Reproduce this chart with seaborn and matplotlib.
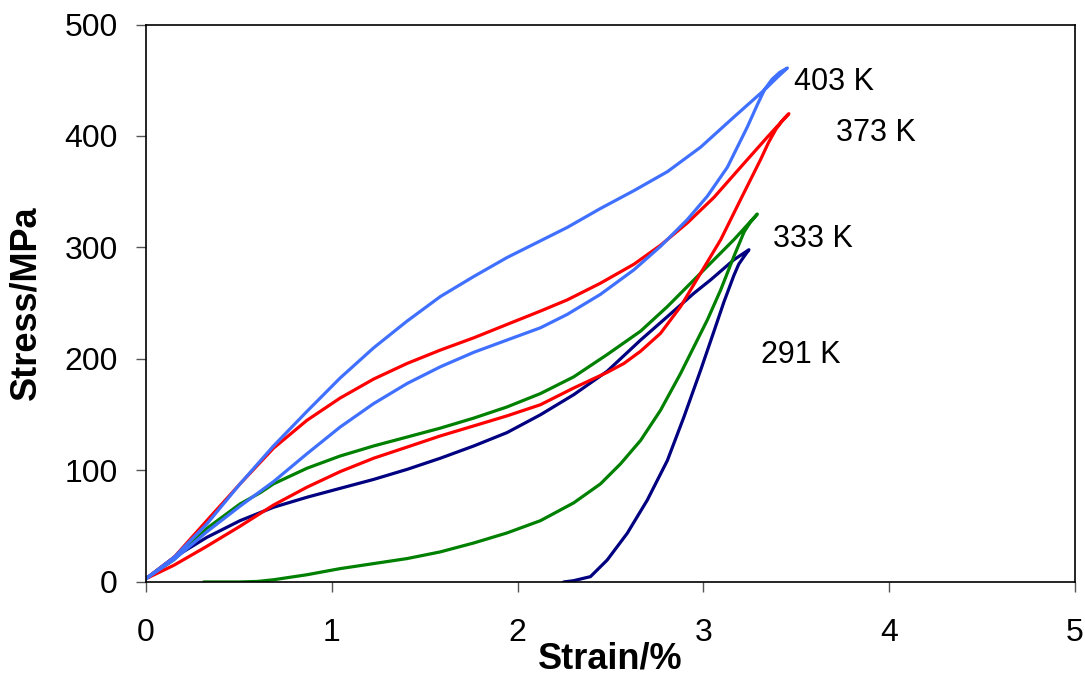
import pandas as pd
import matplotlib
matplotlib.use("Agg")
import matplotlib.pyplot as plt
import seaborn as sns

# --- Data (strain in %, stress in MPa) ---
# each loop: loading branch to the tip, then the unloading branch back down
temps = ["291 K", "333 K", "373 K", "403 K"]
colors = ["#000080", "#008000", "#ff0000", "#4070ff"]

strain_291 = [0, 0.15, 0.327, 0.506, 0.686, 0.866, 1.045, 1.225, 1.405, 1.584, 1.764,
              1.943, 2.123, 2.302, 2.482, 2.662, 2.806, 2.949, 3.039, 3.164, 3.245,
              3.219, 3.19, 3.164, 3.11, 3.057, 2.985, 2.895, 2.806, 2.698, 2.59, 2.482,
              2.392, 2.302, 2.248]
stress_291 = [3, 22, 40, 55, 67, 76, 84, 92, 101, 111, 122,
              134, 150, 168, 189, 217, 238, 259, 271, 289, 298,
              292, 285, 275, 251, 225, 190, 148, 109, 73.5, 43.7, 19.7,
              4.8, 1.2, 0]

strain_333 = [0, 0.15, 0.327, 0.506, 0.614, 0.686, 0.866, 1.045, 1.225, 1.405, 1.584,
              1.764, 1.943, 2.123, 2.302, 2.482, 2.662, 2.806, 2.985, 3.164, 3.29,
              3.25, 3.219, 3.164, 3.093, 3.021, 2.967, 2.877, 2.769, 2.662, 2.554,
              2.446, 2.302, 2.123, 1.943, 1.764, 1.584, 1.405, 1.225, 1.045, 0.866,
              0.686, 0.6, 0.5, 0.31]
stress_333 = [3, 20, 48, 70, 80, 88, 102, 113, 122, 130, 138,
              147, 157, 169, 184, 204, 225, 247, 277, 307, 330,
              322, 314, 292, 262, 235, 217, 187, 154, 127, 106,
              88, 71, 55, 44, 35, 27, 21, 16.5, 12, 6.5,
              2, 0.5, 0, 0]

strain_373 = [0, 0.15, 0.327, 0.506, 0.686, 0.866, 1.045, 1.225, 1.405, 1.584, 1.764,
              1.943, 2.123, 2.267, 2.446, 2.626, 2.769, 2.913, 3.057, 3.2, 3.344, 3.41,
              3.46, 3.43, 3.39, 3.35, 3.308, 3.2, 3.093, 2.985, 2.877, 2.769, 2.662,
              2.572, 2.482, 2.302, 2.123, 1.943, 1.764, 1.584, 1.405, 1.225, 1.045,
              0.866, 0.686, 0.506, 0.327, 0.15, 0]
stress_373 = [3, 22, 55, 88, 120, 145, 165, 182, 196, 208, 219,
              231, 243, 253, 268, 285, 302, 322, 345, 372, 399, 411,
              420, 415, 406, 394, 379, 343, 307, 277, 247, 223, 207,
              196, 188, 174, 159, 149, 140, 131, 121, 111, 99,
              85, 69, 50, 32, 15, 3]

strain_403 = [0, 0.15, 0.327, 0.506, 0.686, 0.866, 1.045, 1.225, 1.405, 1.584, 1.764,
              1.943, 2.123, 2.267, 2.446, 2.626, 2.806, 2.985, 3.164, 3.326, 3.4, 3.452,
              3.41, 3.37, 3.33, 3.29, 3.236, 3.129, 3.021, 2.913, 2.769, 2.626, 2.446,
              2.267, 2.123, 1.943, 1.764, 1.584, 1.405, 1.225, 1.045, 0.866, 0.686,
              0.506, 0.327, 0.15, 0]
stress_403 = [3, 22, 52, 88, 122, 153, 183, 210, 234, 256, 274,
              291, 306, 318, 335, 351, 368, 390, 417, 441, 453, 461,
              457, 451, 442, 428, 408, 372, 346, 325, 301, 280, 258,
              240, 228, 217, 206, 193, 178, 160, 139, 115, 90,
              68, 45, 20, 3]

label_strain = [3.308, 3.373, 3.716, 3.49]
label_stress = [204, 308, 403, 448]

frames = []
for t, xs, ys in zip(temps,
                     [strain_291, strain_333, strain_373, strain_403],
                     [stress_291, stress_333, stress_373, stress_403]):
    frames.append(pd.DataFrame({"strain": xs, "stress": ys, "temp": t}))
df = pd.concat(frames, ignore_index=True)

sns.set_theme(style="ticks")
plt.rcParams["font.family"] = ["Liberation Sans", "DejaVu Sans"]
plt.rcParams["text.color"] = "black"
plt.rcParams["axes.labelcolor"] = "black"

fig = plt.figure(figsize=(10.85, 6.75), dpi=100)
ax = fig.add_axes([0.1346, 0.1378, 0.8562, 0.8259])

sns.lineplot(data=df, x="strain", y="stress", hue="temp", palette=colors,
             hue_order=temps, sort=False, estimator=None, linewidth=2.3,
             legend=False, ax=ax, solid_joinstyle="round", solid_capstyle="round")

for t, lx, ly in zip(temps, label_strain, label_stress):
    ax.text(lx, ly, t, fontsize=22, ha="left", va="center", color="black")

ax.set_xlim(0, 5)
ax.set_ylim(0, 500)
ax.set_xticks(range(0, 6))
ax.set_yticks(range(0, 501, 100))
ax.tick_params(axis="x", direction="out", length=7.5, width=1, color="#555555",
               labelsize=23, pad=18.5, labelcolor="black")
ax.tick_params(axis="y", direction="out", length=7.5, width=1, color="#555555",
               labelsize=23, pad=13, labelcolor="black")
for s in ax.spines.values():
    s.set_color("black")
    s.set_linewidth(1.2)

ax.set_xlabel("Strain/%", fontsize=26, fontweight="bold")
ax.set_ylabel("Stress/MPa", fontsize=26, fontweight="bold")
ax.xaxis.set_label_coords(0.5, -0.107)
ax.yaxis.set_label_coords(-0.11, 0.5)

fig.savefig("out.png", dpi=100)
